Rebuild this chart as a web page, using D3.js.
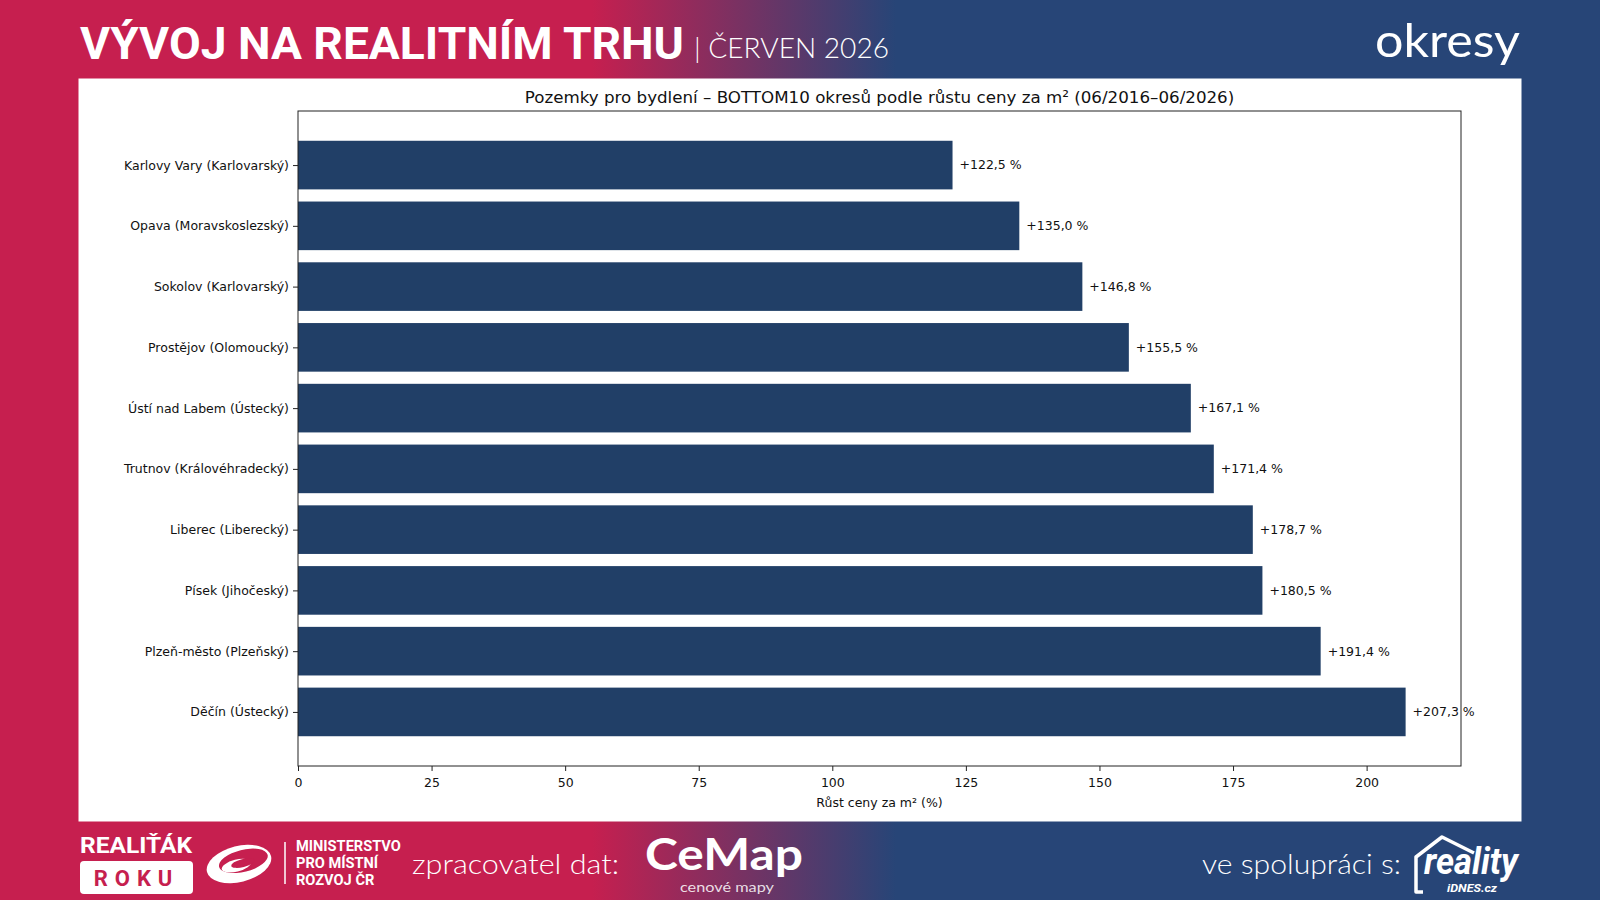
<!DOCTYPE html>
<html>
<head>
<meta charset="utf-8">
<script src="https://cdn.jsdelivr.net/npm/d3@7/dist/d3.min.js"></script>
<style>
  body { margin:0; padding:0; background:#fff; }
  svg { display:block; }
</style>
</head>
<body>
<div id="chart"></div>
<script>
// data
var categories = [
  "Karlovy Vary (Karlovarský)",
  "Opava (Moravskoslezský)",
  "Sokolov (Karlovarský)",
  "Prostějov (Olomoucký)",
  "Ústí nad Labem (Ústecký)",
  "Trutnov (Královéhradecký)",
  "Liberec (Liberecký)",
  "Písek (Jihočeský)",
  "Plzeň-město (Plzeňský)",
  "Děčín (Ústecký)"
]
var growth = [122.5, 135.0, 146.8, 155.5, 167.1, 171.4, 178.7, 180.5, 191.4, 207.3]
var xTicks = [0, 25, 50, 75, 100, 125, 150, 175, 200]

var chartTitle = "Pozemky pro bydlení – BOTTOM10 okresů podle růstu ceny za m² (06/2016–06/2026)"
var xLabel = "Růst ceny za m² (%)"

var W = 1600, H = 900
var red = "#c61f4f", blue = "#274577", barColor = "#213f67"
var mplFont = "'DejaVu Sans', sans-serif"

var svg = d3.select('#chart').append('svg')
  .attr('width', W)
  .attr('height', H)

// background gradient red -> blue
var defs = svg.append('defs')
var grad = defs.append('linearGradient')
  .attr('id', 'bg')
  .attr('x1', 0).attr('x2', 1).attr('y1', 0).attr('y2', 0)
grad.append('stop').attr('offset', '37%').attr('stop-color', red)
grad.append('stop').attr('offset', '56%').attr('stop-color', blue)

svg.append('rect')
  .attr('width', W).attr('height', H)
  .attr('fill', 'url(#bg)')

// white panel
svg.append('rect')
  .attr('x', 78.5).attr('y', 78.5)
  .attr('width', 1443).attr('height', 743)
  .attr('fill', '#fff')

// ---- header ----
svg.append('text')
  .attr('x', 80).attr('y', 59)
  .attr('font-family', 'Roboto, sans-serif')
  .attr('font-weight', 'bold')
  .attr('font-size', 44)
  .attr('textLength', 604)
  .attr('lengthAdjust', 'spacingAndGlyphs')
  .attr('fill', '#fff')
  .text('VÝVOJ NA REALITNÍM TRHU')

svg.append('text')
  .attr('x', 694).attr('y', 58)
  .attr('font-family', 'Lato, sans-serif')
  .attr('font-weight', 300)
  .attr('font-size', 28)
  .attr('textLength', 195)
  .attr('lengthAdjust', 'spacingAndGlyphs')
  .attr('fill', '#fff')
  .text('| ČERVEN 2026')

svg.append('text')
  .attr('x', 1520).attr('y', 57)
  .attr('text-anchor', 'end')
  .attr('font-family', 'Lato, sans-serif')
  .attr('font-size', 46)
  .attr('textLength', 145)
  .attr('lengthAdjust', 'spacingAndGlyphs')
  .attr('fill', '#fff')
  .text('okresy')

// ---- chart ----
var axL = 298, axR = 1461, axT = 111, axB = 766
var barH = 0.8
var xmax = d3.max(growth) * 1.05
var x = d3.scaleLinear().domain([0, xmax]).range([axL, axR])
// matplotlib style margins around bar extents
var ylo = -barH / 2, yhi = categories.length - 1 + barH / 2
var ym = (yhi - ylo) * 0.05
var y = d3.scaleLinear().domain([ylo - ym, yhi + ym]).range([axT, axB])
var bandPx = y(1) - y(0)

var g = svg.append('g')

g.selectAll('rect.bar')
  .data(growth)
  .enter()
  .append('rect')
  .attr('class', 'bar')
  .attr('x', x(0))
  .attr('y', function(d, i){ return y(i) - bandPx * barH / 2 })
  .attr('width', function(d){ return x(d) - x(0) })
  .attr('height', bandPx * barH)
  .attr('fill', barColor)

g.selectAll('text.val')
  .data(growth)
  .enter()
  .append('text')
  .attr('class', 'val')
  .attr('x', function(d){ return x(d) + 7 })
  .attr('y', function(d, i){ return y(i) })
  .attr('dy', '0.35em')
  .attr('font-family', mplFont)
  .attr('font-size', 12.5)
  .attr('fill', '#111')
  .text(function(d){ return '+' + d.toFixed(1).replace('.', ',') + ' %' })

// x axis
var xAxis = d3.axisBottom(x)
  .tickValues(xTicks)
  .tickSize(5)
  .tickPadding(7)
  .tickFormat(d3.format('d'))
var xg = g.append('g')
  .attr('transform', 'translate(0,' + axB + ')')
  .call(xAxis)
xg.select('.domain').remove()
xg.selectAll('text')
  .attr('font-family', mplFont)
  .attr('font-size', 12.5)
  .attr('fill', '#111')
xg.selectAll('line').attr('stroke', '#222')

// y axis
var yAxis = d3.axisLeft(y)
  .tickValues(d3.range(categories.length))
  .tickSize(5)
  .tickPadding(4)
  .tickFormat(function(i){ return categories[i] })
var yg = g.append('g')
  .attr('transform', 'translate(' + axL + ',0)')
  .call(yAxis)
yg.select('.domain').remove()
yg.selectAll('text')
  .attr('font-family', mplFont)
  .attr('font-size', 12.5)
  .attr('fill', '#111')
yg.selectAll('line').attr('stroke', '#222')

// frame
g.append('rect')
  .attr('x', axL).attr('y', axT)
  .attr('width', axR - axL).attr('height', axB - axT)
  .attr('fill', 'none')
  .attr('stroke', '#222')
  .attr('stroke-width', 1)

g.append('text')
  .attr('x', (axL + axR) / 2).attr('y', 103)
  .attr('text-anchor', 'middle')
  .attr('font-family', mplFont)
  .attr('font-size', 16.7)
  .attr('fill', '#111')
  .text(chartTitle)

g.append('text')
  .attr('x', (axL + axR) / 2).attr('y', 807)
  .attr('text-anchor', 'middle')
  .attr('font-family', mplFont)
  .attr('font-size', 12.5)
  .attr('fill', '#111')
  .text(xLabel)

// ---- footer ----
var foot = svg.append('g').attr('fill', '#fff')

foot.append('text')
  .attr('x', 80).attr('y', 853)
  .attr('font-family', 'Roboto, sans-serif')
  .attr('font-weight', 'bold')
  .attr('font-size', 22)
  .attr('textLength', 112)
  .attr('lengthAdjust', 'spacingAndGlyphs')
  .text('REALIŤÁK')

foot.append('rect')
  .attr('x', 80).attr('y', 861)
  .attr('width', 113).attr('height', 33)
  .attr('rx', 4)
  .attr('fill', '#fff')
foot.append('text')
  .attr('x', 136.5).attr('y', 886)
  .attr('text-anchor', 'middle')
  .attr('font-family', 'Roboto, sans-serif')
  .attr('font-weight', 'bold')
  .attr('font-size', 22)
  .attr('letter-spacing', 7)
  .attr('fill', red)
  .text('ROKU')

// ministry swirl, rough
var logo = foot.append('g').attr('transform', 'translate(239,864) rotate(-14)')
logo.append('ellipse').attr('rx', 33).attr('ry', 18).attr('fill', '#fff')
logo.append('ellipse').attr('cx', 5).attr('cy', -2).attr('rx', 25).attr('ry', 11).attr('fill', red)
logo.append('ellipse').attr('cx', -3).attr('cy', 1).attr('rx', 15).attr('ry', 6).attr('fill', '#fff')
logo.append('ellipse').attr('cx', 4).attr('cy', 0).attr('rx', 12).attr('ry', 4).attr('fill', red)

foot.append('line')
  .attr('x1', 285).attr('x2', 285).attr('y1', 842).attr('y2', 884)
  .attr('stroke', '#fff').attr('stroke-width', 1.5)

var mmr = ['MINISTERSTVO', 'PRO MÍSTNÍ', 'ROZVOJ ČR']
foot.selectAll('text.mmr')
  .data(mmr)
  .enter()
  .append('text')
  .attr('class', 'mmr')
  .attr('x', 296)
  .attr('y', function(d, i){ return 851 + i * 17 })
  .attr('font-family', 'Roboto, sans-serif')
  .attr('font-weight', 'bold')
  .attr('font-size', 14.6)
  .text(function(d){ return d })

foot.append('text')
  .attr('x', 412).attr('y', 874)
  .attr('font-family', 'Lato, sans-serif')
  .attr('font-weight', 300)
  .attr('font-size', 28)
  .attr('textLength', 207)
  .attr('lengthAdjust', 'spacingAndGlyphs')
  .text('zpracovatel dat:')

foot.append('text')
  .attr('x', 645).attr('y', 870)
  .attr('font-family', 'Lato, sans-serif')
  .attr('font-weight', 'bold')
  .attr('font-size', 44)
  .attr('textLength', 158)
  .attr('lengthAdjust', 'spacingAndGlyphs')
  .text('CeMap')
foot.append('text')
  .attr('x', 680).attr('y', 892)
  .attr('font-family', 'Lato, sans-serif')
  .attr('font-size', 14)
  .attr('textLength', 94)
  .attr('lengthAdjust', 'spacingAndGlyphs')
  .attr('fill-opacity', 0.85)
  .text('cenové mapy')

foot.append('text')
  .attr('x', 1202).attr('y', 874)
  .attr('font-family', 'Lato, sans-serif')
  .attr('font-weight', 300)
  .attr('font-size', 28)
  .attr('textLength', 199)
  .attr('lengthAdjust', 'spacingAndGlyphs')
  .text('ve spolupráci s:')

// reality idnes logo, rough
foot.append('path')
  .attr('d', 'M1423,892 L1416,892 L1416,857 L1442,837 L1474,853')
  .attr('fill', 'none')
  .attr('stroke', '#fff')
  .attr('stroke-width', 3.5)
  .attr('stroke-linejoin', 'round')
foot.append('text')
  .attr('x', 1424).attr('y', 874)
  .attr('font-family', 'Roboto, sans-serif')
  .attr('font-weight', 'bold')
  .attr('font-style', 'italic')
  .attr('font-size', 36)
  .attr('textLength', 94)
  .attr('lengthAdjust', 'spacingAndGlyphs')
  .text('reality')
foot.append('text')
  .attr('x', 1447).attr('y', 892)
  .attr('font-family', 'Roboto, sans-serif')
  .attr('font-weight', 'bold')
  .attr('font-style', 'italic')
  .attr('font-size', 11)
  .attr('textLength', 50)
  .attr('lengthAdjust', 'spacingAndGlyphs')
  .text('iDNES.cz')
</script>
</body>
</html>
